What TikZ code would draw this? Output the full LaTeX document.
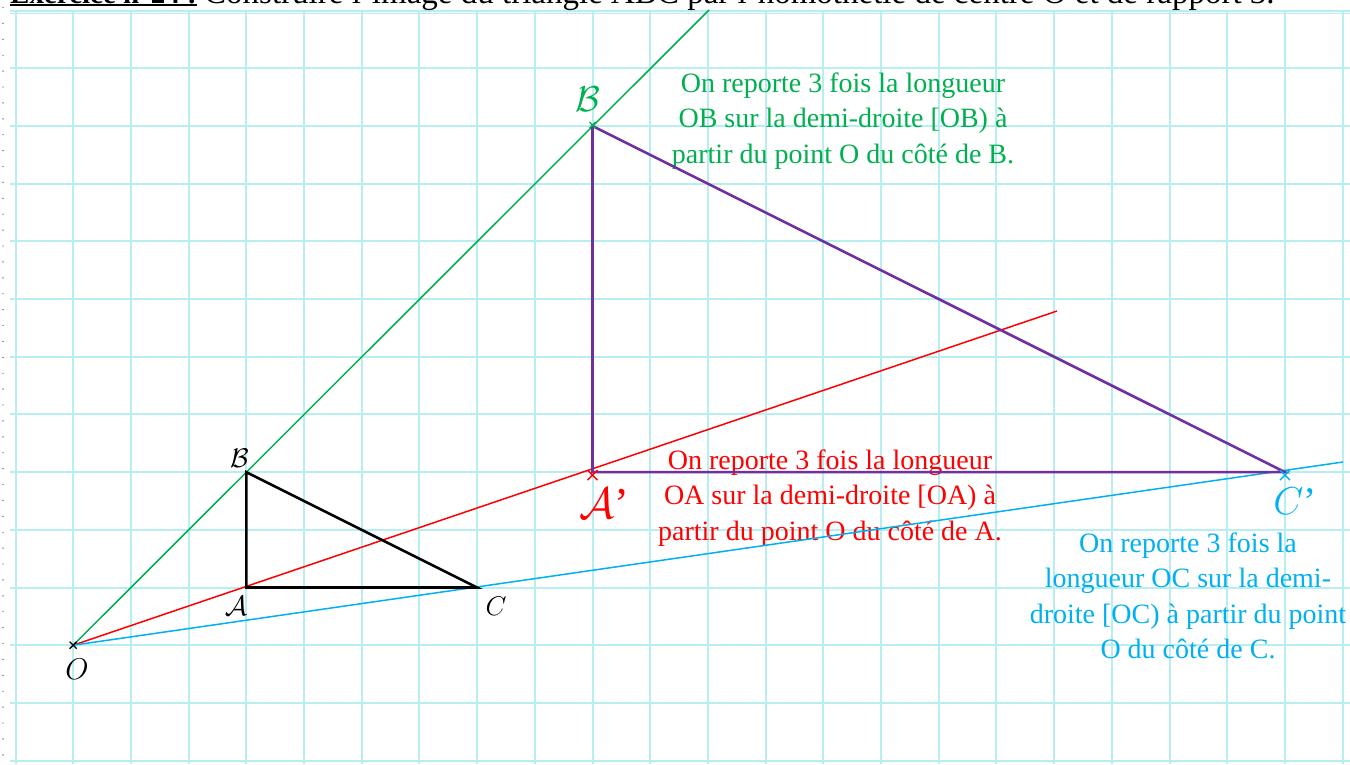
\RequirePackage{fix-cm}
\documentclass[tikz,border=0pt]{standalone}
\usepackage{fontspec}
\setmainfont{Liberation Serif}
\usetikzlibrary{calc}
\definecolor{gridc}{RGB}{185,238,241}
\definecolor{grn}{RGB}{0,176,80}
\definecolor{rd}{RGB}{255,0,0}
\definecolor{blu}{RGB}{0,176,240}
\definecolor{prp}{RGB}{112,48,160}
\newcommand\pcross[3]{\draw[#1,line width=1.4pt,shift={(#2)}] (-#3,-#3) -- (#3,#3) (-#3,#3) -- (#3,-#3);}
\begin{document}
\begin{tikzpicture}[x=1pt,y=-1pt,
  gridline/.style={gridc,line width=2pt},
  constr/.style={line width=1.5pt},
  tri/.style={line width=2.6pt,line join=miter},
  note/.style={align=center,inner sep=0pt,font=\fontsize{28}{35.5}\selectfont},
  ptlabel/.style={inner sep=0pt}]
\useasboundingbox (0,0) rectangle (1350,764);
\clip (0,0) rectangle (1350,764);
\fill[white] (0,0) rectangle (1350,764);
% grid
\foreach \k in {0,...,23} \draw[gridline] ({15.5+57.7*\k},10.5) -- ({15.5+57.7*\k},764);
\foreach \k in {0,...,13} \draw[gridline] (10,{10.5+57.7*\k}) -- (1350,{10.5+57.7*\k});
\draw[gridc,line width=1pt] (10,13) -- (1350,13);
% margin dots
\foreach \k in {0,...,47} \fill[black!70] (3,{7.5+15.9*\k}) circle (0.7);
% title (cut off at the top, as in the reference)
\node[anchor=base west,inner sep=0pt,font=\fontsize{29}{30}\selectfont] (t1) at (10,3.5) {\textbf{Exercice n°24 :}};
\node[anchor=base west,inner sep=0pt,font=\fontsize{33}{34}\selectfont] (t2) at ($(t1.base east)+(7,0)$)
  {Construire l’image du triangle ABC par l’homothétie de centre O et de rapport 3.};
\draw[line width=2pt] ($(t1.base west)+(0,1.5)$) -- ($(t1.base east)+(0,1.5)$);
% points
\coordinate (O) at (73.2,645.2);
\coordinate (A) at (246.3,587.5);
\coordinate (B) at (246.3,472.1);
\coordinate (C) at (477.1,587.5);
\coordinate (A2) at (592.5,472.1);
\coordinate (B2) at (592.5,126.0);
\coordinate (C2) at (1284.9,472.1);
\coordinate (Rend) at (1057,311);
\coordinate (Gend) at (709,10);
\coordinate (Bend) at (1343,462);
% notes
\node[note,text=grn] (ng) at (843,121) {On reporte 3 fois la longueur\\OB sur la demi-droite [OB) à\\partir du point O du côté de B.};
\node[note,text=rd] (nr) at (830,498) {On reporte 3 fois la longueur\\OA sur la demi-droite [OA) à\\partir du point O du côté de A.};
\node[note,text=blu] (nb) at (1188,596) {On reporte 3 fois la\\longueur OC sur la demi-\\droite [OC) à partir du point\\O du côté de C.};
% construction half-lines
\draw[constr,grn] (O) -- (Gend);
\draw[constr,rd] (O) -- (Rend);
\draw[constr,blu] (O) -- (Bend);
% triangles
\draw[tri,black] (A) -- (B) -- (C) -- cycle;
\draw[tri,prp] (A2) -- (B2) -- (C2) -- cycle;
% crosses
\pcross{black}{O}{3.5}
\pcross{rd}{$(A2)+(0,3)$}{5}
\pcross{blu}{$(C2)+(0,3)$}{5}
\pcross{grn}{$(B2)+(0,-1)$}{3}
% labels
\node[ptlabel,font=\fontsize{27}{27}\selectfont] (lB) at (239.5,458.5) {$\mathcal{B}$};
\node[ptlabel,font=\fontsize{28}{28}\selectfont] (lA) at (236,606) {$\mathcal{A}$};
\node[ptlabel,font=\fontsize{27}{27}\selectfont] (lC) at (496,606) {$C$};
\node[ptlabel,font=\fontsize{30}{30}\selectfont] (lO) at (77,669.5) {$O$};
\node[ptlabel,font=\fontsize{36}{36}\selectfont,text=grn] (lB2) at (588,99.5) {$\mathcal{B}$};
\node[ptlabel,font=\fontsize{44}{44}\selectfont,text=rd] (lA2) at (604,503) {$\mathcal{A}$’};
\node[ptlabel,font=\fontsize{39}{39}\selectfont,text=blu] (lC2) at (1295,501) {$C$’};
\end{tikzpicture}
\end{document}
